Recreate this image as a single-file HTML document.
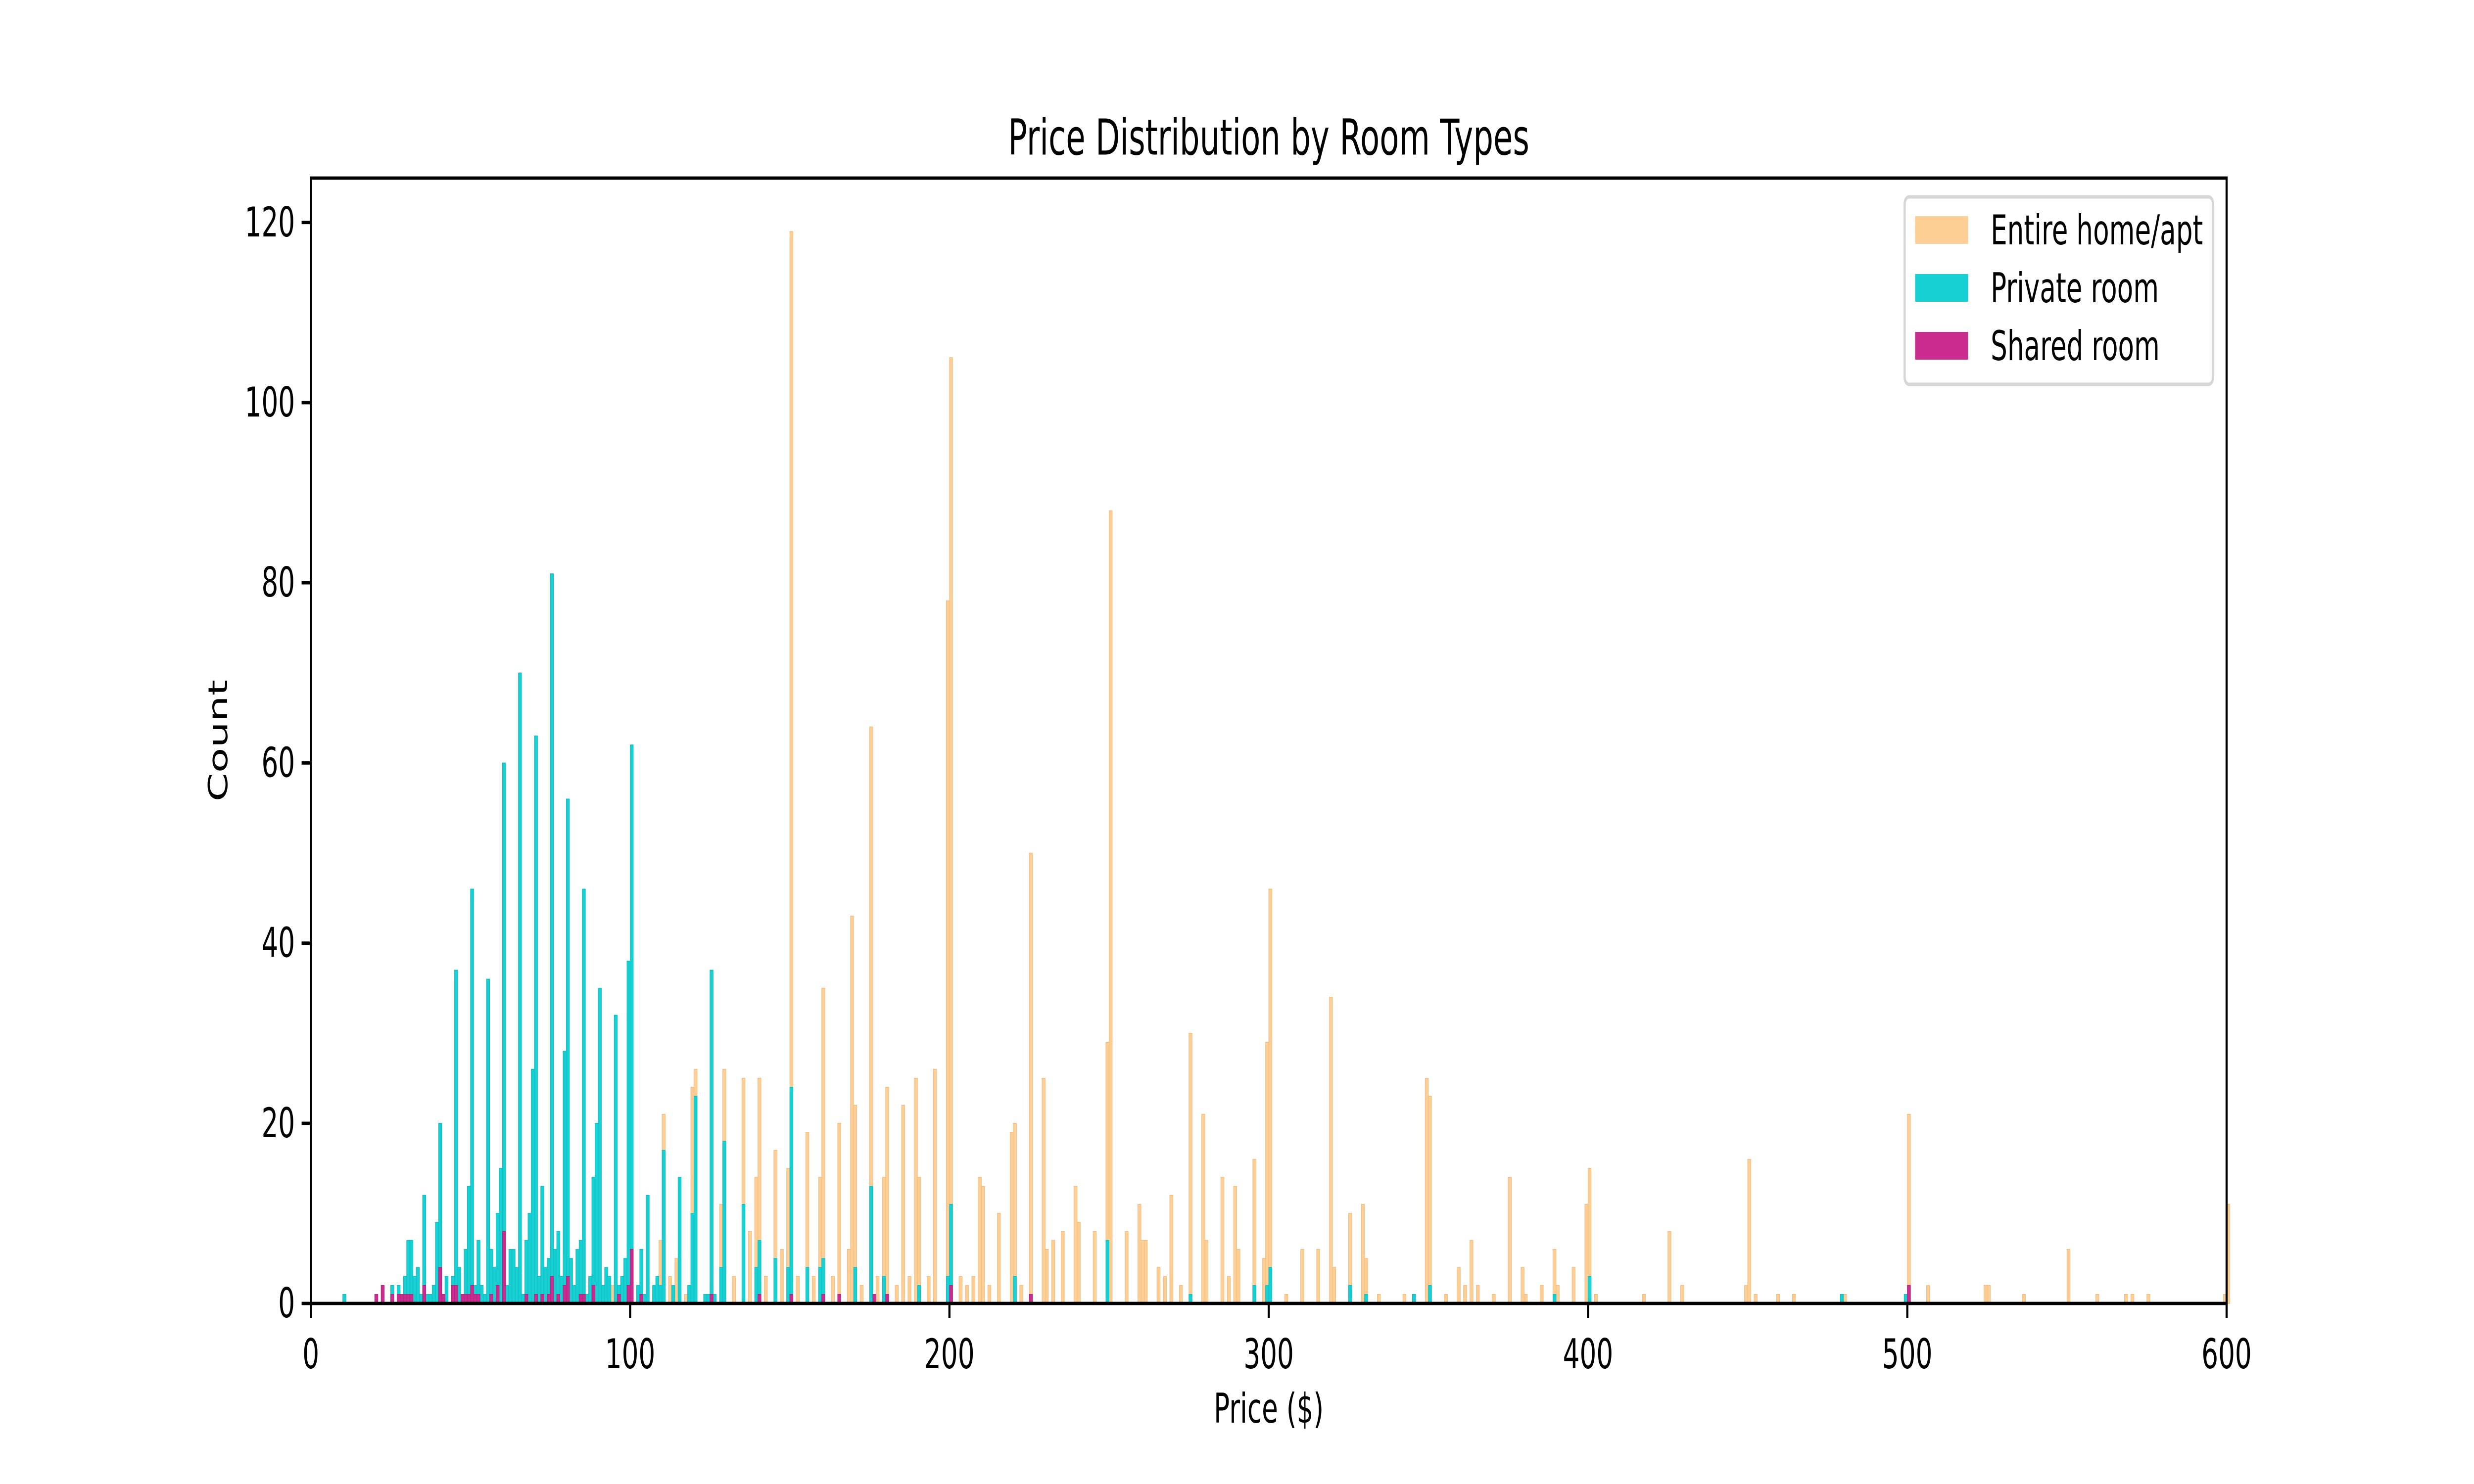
<!DOCTYPE html>
<html><head><meta charset="utf-8"><style>
html,body{margin:0;padding:0;background:#fff;width:100%;height:100%;overflow:hidden;}
svg{display:block;width:100vw;height:100vh;font-family:"DejaVu Sans","Liberation Sans",sans-serif;}
</style></head><body>
<svg id="chart" viewBox="0 0 7800 3000" preserveAspectRatio="none" xmlns="http://www.w3.org/2000/svg">
<rect x="0" y="0" width="7800" height="3000" fill="#fff"/>
<text x="4000" y="278" font-size="100" text-anchor="middle" dominant-baseline="central">Price Distribution by Room Types</text>
<g id="bars"></g>
<g id="axes"></g>
<text x="4000" y="2848" font-size="83" text-anchor="middle" dominant-baseline="central">Price ($)</text>
<text x="688" y="1497" font-size="83" text-anchor="middle" dominant-baseline="central" transform="rotate(-90 688 1497)">Count</text>
<g>
<rect x="6005" y="398" width="972" height="379" rx="14" fill="#fff" fill-opacity="0.8" stroke="#d6d6d6" stroke-width="7"/>
<g><rect x="6038" y="437" width="167" height="56" fill="#fecf94"/><text x="6276" y="466" font-size="83" dominant-baseline="central">Entire home/apt</text></g>
<g><rect x="6038" y="554" width="167" height="56" fill="#17d0d4"/><text x="6276" y="583" font-size="83" dominant-baseline="central">Private room</text></g>
<g><rect x="6038" y="671" width="167" height="56" fill="#c92b8e"/><text x="6276" y="700" font-size="83" dominant-baseline="central">Shared room</text></g>
</g>
</svg>
<script>
const entirePrices=[10,94,97,107,108,109,110,112,114,117,119,120,125,128,129,132,135,137,139,140,142,145,147,149,150,152,155,157,159,160,163,165,168,169,170,172,175,177,179,180,183,185,187,189,190,193,195,199,200,203,205,207,209,210,212,215,219,220,222,225,229,230,232,235,239,240,245,249,250,255,259,260,261,265,267,269,272,275,279,280,285,287,289,290,295,298,299,300,305,310,315,319,320,325,329,330,334,342,349,350,355,359,361,363,365,370,375,379,380,385,389,390,395,399,400,402,417,425,429,449,450,452,459,464,480,500,506,524,525,536,550,559,568,570,575,599,600];
const entireCounts=[1,2,2,1,2,7,21,3,5,1,24,26,2,11,26,3,25,8,14,25,3,17,6,15,119,3,19,3,14,35,3,20,6,43,22,2,64,3,14,24,2,22,3,25,14,3,26,78,105,3,2,3,14,13,2,10,19,20,2,50,25,6,7,8,13,9,8,29,88,8,11,7,7,4,3,12,2,30,21,7,14,3,13,6,16,5,29,46,1,6,6,34,4,10,11,5,1,1,25,23,1,4,2,7,2,1,14,4,1,2,6,2,4,11,15,1,1,8,2,2,16,1,1,1,1,21,2,2,2,1,6,1,1,1,1,1,11];
const privatePrices=[10,25,27,29,30,31,32,33,34,35,36,37,38,39,40,41,42,44,45,46,48,49,50,51,52,53,54,55,56,57,58,59,60,61,62,63,64,65,66,67,68,69,70,71,72,73,74,75,76,77,78,79,80,81,82,83,84,85,86,87,88,89,90,91,92,93,95,96,97,98,99,100,102,103,104,105,107,108,109,110,113,115,118,119,120,123,124,125,126,128,129,135,139,140,145,149,150,155,159,160,170,175,179,190,199,200,220,249,275,295,299,300,325,330,345,350,389,400,479,499];
const privateCounts=[1,2,2,3,7,7,3,4,1,12,1,1,2,9,20,1,3,3,37,4,6,13,46,2,7,2,1,36,6,4,10,15,60,2,6,6,4,70,1,7,10,26,63,3,13,4,5,81,6,8,3,28,56,5,2,6,7,46,1,3,14,20,35,2,4,3,32,2,3,5,38,62,2,6,1,12,2,3,2,17,2,14,2,10,23,1,1,37,1,4,18,11,4,7,5,4,24,4,4,5,4,13,3,2,3,11,3,7,1,2,2,4,2,1,1,2,1,3,1,1];
const sharedPrices=[20,22,25,27,28,29,30,31,35,40,41,44,45,47,48,49,50,51,52,56,58,60,67,70,72,74,75,77,79,80,84,85,88,96,99,100,103,125,140,150,160,165,176,180,200,225,500];
const sharedCounts=[1,2,1,1,1,1,1,1,2,4,1,2,2,1,1,1,2,1,1,1,2,8,1,1,1,1,3,1,2,3,1,1,2,1,2,6,1,1,1,1,1,1,1,1,2,1,2];
const xTicks=[0,100,200,300,400,500,600];
const yTicks=[0,20,40,60,80,100,120];

const NS="http://www.w3.org/2000/svg";
const L=980,R=7020,T=360,B=2635;
function xs(v){return L+(v/600)*(R-L);}
function ys(v){return B-v*18.21;}
const bw=xs(1)-xs(0);
const barsG=document.getElementById('bars');
function series(prices,counts,fill,edge,name){
  for(let i=0;i<prices.length;i++){
    const r=document.createElementNS(NS,'rect');
    r.setAttribute('x',xs(prices[i]));
    r.setAttribute('y',ys(counts[i]));
    r.setAttribute('width',bw);
    r.setAttribute('height',B-ys(counts[i]));
    r.setAttribute('fill',fill);
    r.setAttribute('stroke',edge);
    r.setAttribute('stroke-width','1.5');
    
    
    barsG.appendChild(r);
  }
}
series(entirePrices,entireCounts,'#fecf94','#f0bd84','entire-home');
series(privatePrices,privateCounts,'#17d0d4','#12bcbf','private-room');
series(sharedPrices,sharedCounts,'#c92b8e','#b0257c','shared-room');

const ax=document.getElementById('axes');
const frame=document.createElementNS(NS,'rect');
frame.setAttribute('x',L);frame.setAttribute('y',T);
frame.setAttribute('width',R-L);frame.setAttribute('height',B-T);
frame.setAttribute('fill','none');frame.setAttribute('stroke','#000');frame.setAttribute('stroke-width','6.7');


ax.appendChild(frame);
for(const t of xTicks){
  const ln=document.createElementNS(NS,'line');
  ln.setAttribute('x1',xs(t));ln.setAttribute('x2',xs(t));
  ln.setAttribute('y1',B);ln.setAttribute('y2',B+29);
  ln.setAttribute('stroke','#000');ln.setAttribute('stroke-width','6.7');
  
  
  ax.appendChild(ln);
  const tx=document.createElementNS(NS,'text');
  tx.setAttribute('x',xs(t));tx.setAttribute('y',2738);
  tx.setAttribute('font-size','83');tx.setAttribute('text-anchor','middle');tx.setAttribute('dominant-baseline','central');
  tx.textContent=t;
  
  
  ax.appendChild(tx);
}
for(const t of yTicks){
  const ln=document.createElementNS(NS,'line');
  ln.setAttribute('x1',L-29);ln.setAttribute('x2',L);
  ln.setAttribute('y1',ys(t));ln.setAttribute('y2',ys(t));
  ln.setAttribute('stroke','#000');ln.setAttribute('stroke-width','6.7');
  
  
  ax.appendChild(ln);
  const tx=document.createElementNS(NS,'text');
  tx.setAttribute('x',L-50);tx.setAttribute('y',ys(t));
  tx.setAttribute('font-size','83');tx.setAttribute('text-anchor','end');tx.setAttribute('dominant-baseline','central');
  tx.textContent=t;
  
  
  ax.appendChild(tx);
}
</script>
</body></html>
